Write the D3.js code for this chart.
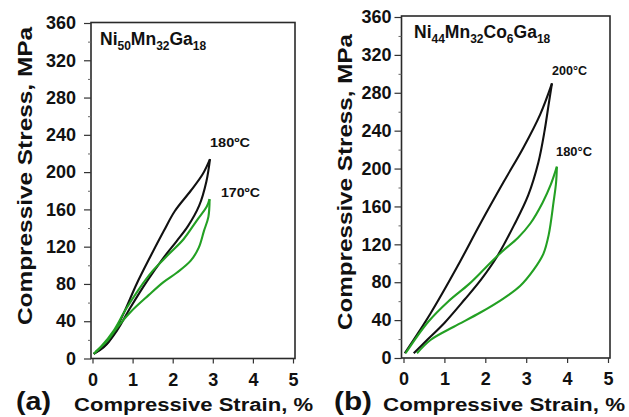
<!DOCTYPE html>
<html><head><meta charset="utf-8">
<script src="https://cdn.jsdelivr.net/npm/d3@7"></script>
<style>body{margin:0;background:#fff}svg{display:block}</style>
</head><body>
<script>
// ---- data ----
const xTicks = [0, 1, 2, 3, 4, 5];
const yTicks = [0, 40, 80, 120, 160, 200, 240, 280, 320, 360];
const yMinorTicks = [20, 60, 100, 140, 180, 220, 260, 300, 340];

// Panel (a) Ni50Mn32Ga18
const aBlack180Load = [[0.03,5],[0.4,18],[0.75,46],[1.1,80],[1.45,110],[1.78,137],[2.05,158],[2.45,180],[2.75,198],[2.93,214]];
const aBlack180Unload = [[2.93,214],[2.84,190],[2.66,164],[2.38,142],[2.1,126],[1.77,108],[1.36,83],[0.95,55],[0.61,30],[0.28,12],[0.03,5]];
const aGreen170Load = [[0.03,5],[0.2,12],[0.53,30],[0.82,52],[1.15,74],[1.5,94],[1.88,111],[2.27,128],[2.6,148],[2.85,163],[2.92,171]];
const aGreen170Unload = [[2.92,171],[2.89,152],[2.78,137],[2.65,119],[2.45,105],[2.1,92],[1.77,82],[1.4,68],[0.95,50],[0.61,33],[0.37,19],[0.07,7]];

// Panel (b) Ni44Mn32Co6Ga18
const bBlack200Load = [[0.03,5],[0.66,47],[1.31,96],[1.88,142],[2.45,186],[2.93,222],[3.34,257],[3.63,290]];
const bBlack200Unload = [[3.63,290],[3.55,268],[3.45,240],[3.3,207],[3.05,172],[2.7,140],[2.3,108],[1.9,83],[1.5,62],[1.0,37],[0.6,20],[0.25,5]];
const bGreen180Load = [[0.05,5],[0.6,38],[1.1,60],[1.6,78],[2.0,95],[2.4,112],[2.8,127],[3.1,142],[3.4,164],[3.6,183],[3.75,202]];
const bGreen180Unload = [[3.75,202],[3.73,185],[3.67,165],[3.55,130],[3.42,110],[3.18,93],[2.85,76],[2.45,63],[1.88,48],[1.23,33],[0.66,19],[0.33,5]];

const xLabel = "Compressive Strain, %";
const yLabel = "Compressive Stress, MPa";
const aTitle = [["Ni",""],["50","sub"],["Mn",""],["32","sub"],["Ga",""],["18","sub"]];
const bTitle = [["Ni",""],["44","sub"],["Mn",""],["32","sub"],["Co",""],["6","sub"],["Ga",""],["18","sub"]];

// ---- drawing ----
const W = 629, H = 417;
const FONT = "'Liberation Sans', Arial, Helvetica, sans-serif";
const BLACK = "#111", GREEN = "#23a023";
const svg = d3.select("body").append("svg").attr("width", W).attr("height", H)
  .style("font-family", FONT);

function panel(cfg) {
  const x = d3.scaleLinear().domain([0, 5]).range([cfg.x0, cfg.x5]);
  const y = d3.scaleLinear().domain([0, 360]).range([cfg.y0, cfg.y360]);
  const g = svg.append("g");

  // frame
  g.append("rect").attr("x", cfg.left).attr("y", cfg.top)
    .attr("width", cfg.right - cfg.left).attr("height", cfg.y0 - cfg.top)
    .attr("fill", "none").attr("stroke", "#2a2a2a").attr("stroke-width", 1.6);

  // x axis
  const xa = g.append("g").attr("transform", `translate(0,${cfg.y0})`)
    .call(d3.axisBottom(x).tickValues(xTicks).tickSize(5).tickFormat(d3.format("d")));
  xa.select(".domain").remove();
  xa.selectAll("line").attr("stroke", "#333").attr("stroke-width", 1.2);
  xa.selectAll("text").attr("font-size", 18).attr("font-weight", "bold").attr("fill", "#111")
    .attr("font-family", FONT).attr("dy", null).attr("y", 0)
    .attr("transform", "translate(0,27)");

  // y axis
  const ya = g.append("g").attr("transform", `translate(${cfg.left},0)`)
    .call(d3.axisLeft(y).tickValues(yTicks).tickSize(7).tickPadding(cfg.ypad));
  ya.select(".domain").remove();
  ya.selectAll("line").attr("stroke", "#333").attr("stroke-width", 1.2);
  ya.selectAll("text").attr("font-size", 18).attr("font-weight", "bold").attr("fill", "#111")
    .attr("font-family", FONT);
  const ym = g.append("g").attr("transform", `translate(${cfg.left},0)`)
    .call(d3.axisLeft(y).tickValues(yMinorTicks).tickSize(3).tickFormat(""));
  ym.select(".domain").remove();
  ym.selectAll("line").attr("stroke", "#666").attr("stroke-width", 1);

  // curves
  const line = d3.line().x(d => x(d[0])).y(d => y(d[1])).curve(d3.curveCatmullRom.alpha(0.5));
  cfg.series.forEach(s => {
    g.append("path").attr("d", line(s.data)).attr("fill", "none")
      .attr("stroke", s.color).attr("stroke-width", 2.1).attr("stroke-linejoin", "round");
  });

  // curve labels
  cfg.labels.forEach(l => {
    g.append("text").attr("x", l.x).attr("y", l.y).text(l.t)
      .attr("font-size", 13).attr("font-weight", "bold").attr("fill", "#111")
      .attr("textLength", l.w).attr("lengthAdjust", "spacingAndGlyphs");
  });

  // alloy title
  const tt = g.append("text").attr("x", cfg.titleX).attr("y", cfg.titleY)
    .attr("font-weight", "bold").attr("fill", "#111");
  let prevSub = false;
  cfg.title.forEach(([t, k]) => {
    const ts = tt.append("tspan").text(t);
    if (k === "sub") { ts.attr("font-size", 12).attr("dy", prevSub ? 0 : 5); prevSub = true; }
    else { ts.attr("font-size", 17.5).attr("dy", prevSub ? -5 : 0); prevSub = false; }
  });

  // y title
  g.append("text").attr("transform", `translate(${cfg.yTitleX},${cfg.yTitleY}) rotate(-90)`)
    .attr("text-anchor", "middle").attr("font-size", 20.5).attr("font-weight", "bold")
    .attr("fill", "#111").attr("textLength", cfg.yTitleLen).attr("lengthAdjust", "spacingAndGlyphs")
    .text(yLabel);

  // x title
  g.append("text").attr("x", cfg.xTitleX).attr("y", 411)
    .attr("font-size", 17.5).attr("font-weight", "bold").attr("fill", "#111")
    .attr("textLength", cfg.xTitleLen).attr("lengthAdjust", "spacingAndGlyphs")
    .text(xLabel);

  // panel letter
  g.append("text").attr("x", cfg.letterX).attr("y", 410)
    .attr("font-size", 25).attr("fill", "#111").attr("font-weight", "bold")
    .attr("textLength", cfg.letterLen).attr("lengthAdjust", "spacingAndGlyphs")
    .text(cfg.letter);
}

panel({
  x0: 92.5, x5: 293, y0: 358.5, y360: 23, left: 91, right: 295, top: 22.5, ypad: 8,
  series: [
    {data: aBlack180Load, color: BLACK}, {data: aBlack180Unload, color: BLACK},
    {data: aGreen170Load, color: GREEN}, {data: aGreen170Unload, color: GREEN}
  ],
  labels: [{t: "180ºC", x: 210, y: 147, w: 40}, {t: "170ºC", x: 221, y: 197, w: 39}],
  title: aTitle, titleX: 100, titleY: 45,
  yTitleX: 32, yTitleY: 176, yTitleLen: 298,
  xTitleX: 74, xTitleLen: 239, letter: "(a)", letterX: 16, letterLen: 35
});

panel({
  x0: 403.5, x5: 608, y0: 358, y360: 17, left: 401.5, right: 610, top: 16, ypad: 3,
  series: [
    {data: bBlack200Load, color: BLACK}, {data: bBlack200Unload, color: BLACK},
    {data: bGreen180Load, color: GREEN}, {data: bGreen180Unload, color: GREEN}
  ],
  labels: [{t: "200°C", x: 552, y: 75, w: 35}, {t: "180°C", x: 556, y: 156, w: 36}],
  title: bTitle, titleX: 414, titleY: 38,
  yTitleX: 352, yTitleY: 182, yTitleLen: 296,
  xTitleX: 383, xTitleLen: 242, letter: "(b)", letterX: 334, letterLen: 38
});
</script>
</body></html>
